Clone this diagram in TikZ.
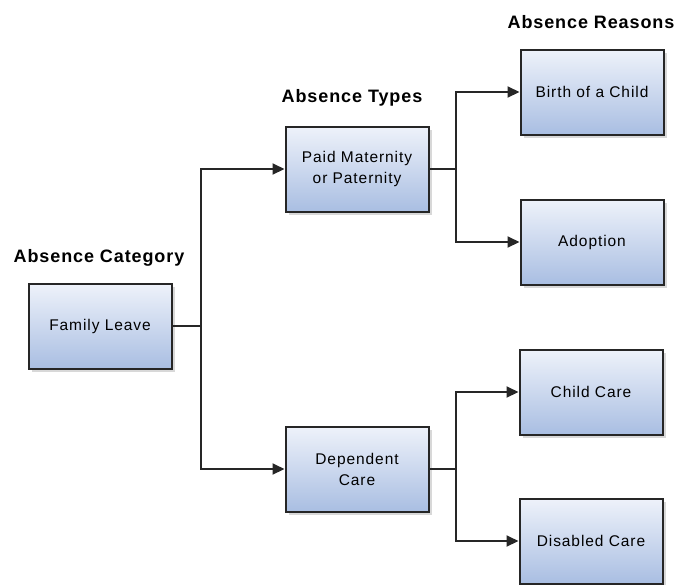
\documentclass[tikz,border=0pt]{standalone}
\usepackage{fontspec}
\setmainfont{Liberation Sans}
\usetikzlibrary{arrows.meta,shadows}
\definecolor{boxtop}{HTML}{EEF2FA}
\definecolor{boxbot}{HTML}{A9BEE2}
\definecolor{edge}{HTML}{262626}
\tikzset{
  box/.style={draw=edge, line width=2pt, minimum width=143pt, minimum height=85pt,
    top color=boxtop, bottom color=boxbot, align=center,
    font=\fontsize{15.5}{21}\selectfont\addfontfeature{LetterSpace=6},
    drop shadow={shadow xshift=3pt, shadow yshift=-3pt, fill=black!30, opacity=0.5}},
  head/.style={font=\bfseries\fontsize{18}{22}\selectfont\addfontfeature{LetterSpace=5}},
  conn/.style={draw=edge, line width=2pt},
  arr/.style={conn, -{Triangle[length=12pt,width=11pt]}}
}
\begin{document}
\begin{tikzpicture}[x=1pt,y=-1pt]
\useasboundingbox (0,0) rectangle (676,584);
\node[box] (fam) at (100,326) {Family Leave};
\node[box] (paid) at (357,169) {Paid Maternity\\or Paternity};
\node[box] (dep) at (357,469) {Dependent\\Care};
\node[box] (birth) at (592,92) {Birth of a Child};
\node[box] (adop) at (592,242) {Adoption};
\node[box] (child) at (591,392) {Child Care};
\node[box] (dis) at (591,541) {Disabled Care};
\node[head] (hcat) at (99,258) {Absence Category};
\node[head] (htyp) at (352,98) {Absence Types};
\node[head] (hrea) at (591,22) {Absence Reasons};
\coordinate (j1) at (201,326);
\coordinate (j2) at (456,169);
\coordinate (j3) at (456,469);
\draw[conn] (fam.east) -- (j1);
\draw[arr] (j1) |- (paid.west);
\draw[arr] (j1) |- (dep.west);
\draw[conn] (paid.east) -- (j2);
\draw[arr] (j2) |- (birth.west);
\draw[arr] (j2) |- (adop.west);
\draw[conn] (dep.east) -- (j3);
\draw[arr] (j3) |- (child.west);
\draw[arr] (j3) |- (dis.west);
\end{tikzpicture}
\end{document}
